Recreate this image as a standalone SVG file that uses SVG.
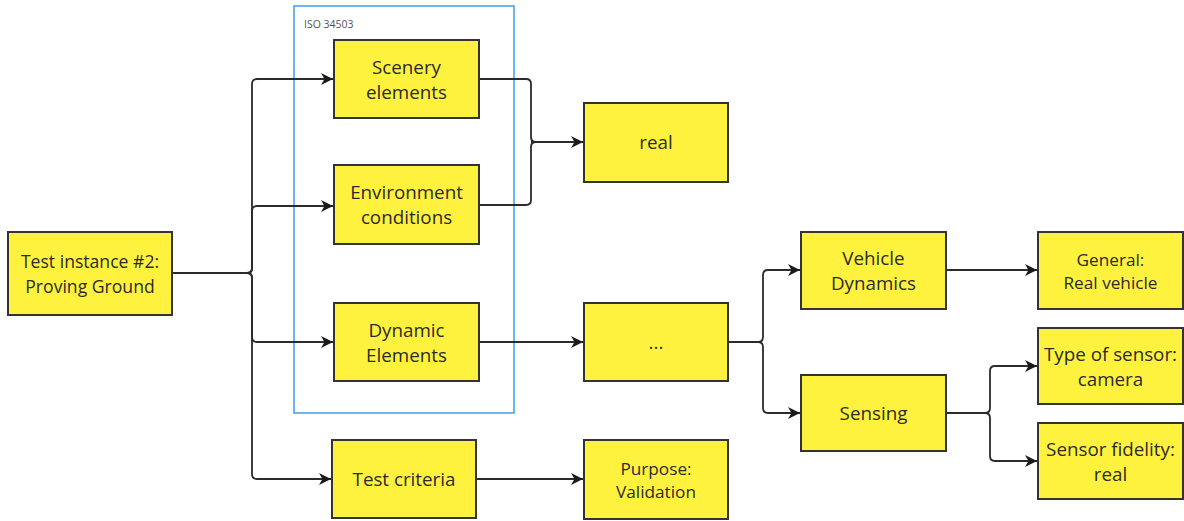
<svg xmlns="http://www.w3.org/2000/svg" width="1184" height="521" viewBox="0 0 1184 521">
  <defs>
    <marker id="arrow" markerWidth="13" markerHeight="13" refX="12" refY="6.5" orient="auto" markerUnits="userSpaceOnUse">
      <path d="M0,0.5 L12,6.5 L0,12.5 L3.5,6.5 Z" fill="#1a1a1a"/>
    </marker>
    <style>
      .box { fill: #fff23f; stroke: #333333; stroke-width: 2; }
      .lbl { font-family: "Open Sans", "Noto Sans", sans-serif; font-size: 18.8px; fill: #2b2b2b; text-anchor: middle; dominant-baseline: central; }
      .root { font-size: 17.6px; }
      .sm { font-size: 17.2px; }
      .edge { fill: none; stroke: #2b2b2b; stroke-width: 1.8; }
      .arr { marker-end: url(#arrow); }
      .frame { fill: none; stroke: #4aa3ef; stroke-width: 1.6; }
      .cap { font-family: "Open Sans", "Noto Sans", sans-serif; font-size: 10.5px; fill: #555555; }
    </style>
  </defs>

  <!-- ISO 34503 grouping frame -->
  <g id="iso-frame">
    <rect class="frame" x="294" y="6" width="220" height="407"/>
    <text class="cap" x="304" y="28">ISO 34503</text>
  </g>

  <!-- connectors -->
  <g id="connectors">
    <!-- root fan-out -->
    <path class="edge arr" d="M172,273 H247 Q252,273 252,268 V84 Q252,79 257,79 H333"/>
    <path class="edge arr" d="M172,273 H247 Q252,273 252,268 V211 Q252,206 257,206 H333"/>
    <path class="edge arr" d="M172,273 H247 Q252,273 252,278 V337 Q252,342 257,342 H333"/>
    <path class="edge arr" d="M172,273 H247 Q252,273 252,278 V474 Q252,479 257,479 H331"/>
    <!-- scenery / environment merge into real -->
    <path class="edge" d="M479,79 H526 Q531,79 531,84 V137 Q531,142 536,142"/>
    <path class="edge" d="M479,205 H526 Q531,205 531,200 V147 Q531,142 536,142"/>
    <path class="edge arr" d="M531,142 H583"/>
    <!-- dynamic elements to ... -->
    <path class="edge arr" d="M479,342 H583"/>
    <!-- test criteria to purpose -->
    <path class="edge arr" d="M476,479 H583"/>
    <!-- ... fan-out -->
    <path class="edge arr" d="M728,342 H758 Q763,342 763,337 V275 Q763,270 768,270 H800"/>
    <path class="edge arr" d="M728,342 H758 Q763,342 763,347 V408 Q763,413 768,413 H800"/>
    <!-- vehicle dynamics to general -->
    <path class="edge arr" d="M946,270 H1037"/>
    <!-- sensing fan-out -->
    <path class="edge arr" d="M946,413 H985 Q990,413 990,408 V371 Q990,366 995,366 H1037"/>
    <path class="edge arr" d="M946,413 H985 Q990,413 990,418 V456 Q990,461 995,461 H1037"/>
  </g>

  <g id="test-instance">
    <rect class="box" x="8" y="232" width="164" height="83"/>
    <text class="lbl root" x="90" y="261">Test instance #2:</text>
    <text class="lbl root" x="90" y="286">Proving Ground</text>
  </g>

  <g id="scenery-elements">
    <rect class="box" x="334" y="40" width="145" height="78"/>
    <text class="lbl" x="406.5" y="67">Scenery</text>
    <text class="lbl" x="406.5" y="92">elements</text>
  </g>

  <g id="environment-conditions">
    <rect class="box" x="334" y="165" width="145" height="79"/>
    <text class="lbl" x="406.5" y="192">Environment</text>
    <text class="lbl" x="406.5" y="217">conditions</text>
  </g>

  <g id="dynamic-elements">
    <rect class="box" x="334" y="303" width="145" height="78"/>
    <text class="lbl" x="406.5" y="330">Dynamic</text>
    <text class="lbl" x="406.5" y="355">Elements</text>
  </g>

  <g id="test-criteria">
    <rect class="box" x="332" y="440" width="144" height="78"/>
    <text class="lbl" x="404" y="479">Test criteria</text>
  </g>

  <g id="real">
    <rect class="box" x="584" y="103" width="144" height="79"/>
    <text class="lbl" x="656" y="142">real</text>
  </g>

  <g id="ellipsis">
    <rect class="box" x="584" y="303" width="144" height="78"/>
    <text class="lbl" x="656" y="342">...</text>
  </g>

  <g id="purpose">
    <rect class="box" x="584" y="440" width="144" height="79"/>
    <text class="lbl sm" x="656" y="468">Purpose:</text>
    <text class="lbl sm" x="656" y="491">Validation</text>
  </g>

  <g id="vehicle-dynamics">
    <rect class="box" x="801" y="232" width="145" height="77"/>
    <text class="lbl" x="873.5" y="258">Vehicle</text>
    <text class="lbl" x="873.5" y="283">Dynamics</text>
  </g>

  <g id="sensing">
    <rect class="box" x="801" y="375" width="145" height="76"/>
    <text class="lbl" x="873.5" y="413">Sensing</text>
  </g>

  <g id="general">
    <rect class="box" x="1038" y="232" width="145" height="77"/>
    <text class="lbl sm" x="1110.5" y="259">General:</text>
    <text class="lbl sm" x="1110.5" y="282">Real vehicle</text>
  </g>

  <g id="type-of-sensor">
    <rect class="box" x="1038" y="328" width="145" height="76"/>
    <text class="lbl" x="1110.5" y="354">Type of sensor:</text>
    <text class="lbl" x="1110.5" y="379">camera</text>
  </g>

  <g id="sensor-fidelity">
    <rect class="box" x="1038" y="423" width="145" height="76"/>
    <text class="lbl" x="1110.5" y="449">Sensor fidelity:</text>
    <text class="lbl" x="1110.5" y="474">real</text>
  </g>
</svg>
